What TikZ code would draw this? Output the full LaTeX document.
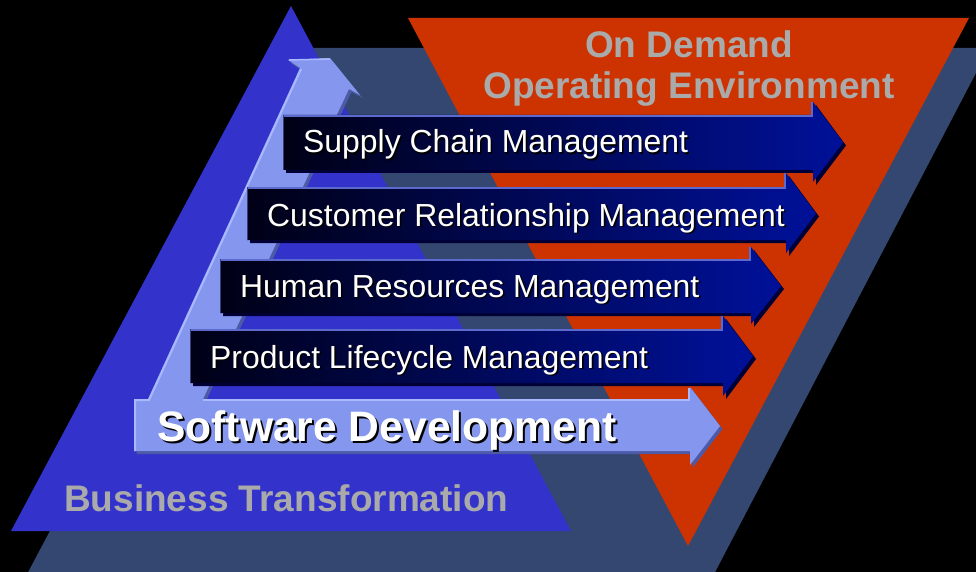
\documentclass[tikz,border=0pt]{standalone}
\usepackage{fontspec}
\setmainfont{Liberation Sans}
\definecolor{slate}{RGB}{51,71,112}
\definecolor{blueT}{RGB}{51,51,204}
\definecolor{redT}{RGB}{204,51,0}
\definecolor{lightA}{RGB}{132,150,238}
\definecolor{lightHi}{RGB}{170,185,255}
\definecolor{lightSh}{RGB}{76,90,168}
\definecolor{navyL}{RGB}{0,0,22}
\definecolor{navyR}{RGB}{0,17,153}
\definecolor{navyHi}{RGB}{92,106,205}
\definecolor{navySh}{RGB}{0,0,55}
\definecolor{grayT}{RGB}{170,170,170}
\newcommand\shtext[2][1.6]{\makebox[0pt][l]{\hspace{#1pt}\raisebox{-#1pt}{\color{black}#2}}#2}
% #1 left x, #2 top y, #3 bottom y, #4 bar end x, #5 head top y, #6 tip x, #7 head bottom y
\newcommand\navyarrow[7]{%
  \fill[navySh, shift={(3,3)}] (#1,#2) -- (#4,#2) -- (#4,#5) -- (#6,{(#2+#3)/2}) -- (#4,#7) -- (#4,#3) -- (#1,#3) -- cycle;
  \shade[left color=navyL, right color=navyR] (#1,#2) -- (#4,#2) -- (#4,#5) -- (#6,{(#2+#3)/2}) -- (#4,#7) -- (#4,#3) -- (#1,#3) -- cycle;
  \draw[navyHi, line width=1.6pt] (#1,{#2+0.8}) -- ({#4-0.8},{#2+0.8}) -- ({#4-0.8},#5);
  \draw[navyHi!60!black, line width=1pt] ({#1+0.5},#2) -- ({#1+0.5},#3);
}
\tikzset{
  navytext/.style={text=white, inner sep=0pt, anchor=base west, font=\fontsize{31.9}{38}\selectfont},
  sdtext/.style={text=white, inner sep=0pt, anchor=base west, font=\fontsize{42.6}{50}\selectfont\bfseries},
  graytitle/.style={text=grayT, inner sep=0pt, font=\fontsize{37}{44}\selectfont\bfseries},
}
\begin{document}
\begin{tikzpicture}[x=1pt,y=-1pt]
\useasboundingbox (0,0) rectangle (976,572);
\fill[black] (0,0) rectangle (976,572);
\clip (0,0) rectangle (976,572);
% slate parallelogram
\fill[slate] (306,48) -- (989,48) -- (712,578) -- (25,578) -- cycle;
% blue triangle
\fill[blueT] (11,531) -- (571,531) -- (291,6) -- cycle;
% red inverted triangle
\fill[redT] (408,18) -- (969,18) -- (688,546) -- cycle;
% light blue L-shaped arrow
\fill[lightSh, shift={(2.5,3)}] (134,451) -- (134,399) -- (148,399) -- (300,68) -- (288,60) -- (330,58) -- (360,95) -- (349,89) -- (203,399) -- (690,399) -- (690,387) -- (720,426) -- (690,465) -- (690,451) -- cycle;
\fill[lightA] (134,451) -- (134,399) -- (148,399) -- (300,68) -- (288,60) -- (330,58) -- (360,95) -- (349,89) -- (203,399) -- (690,399) -- (690,387) -- (720,426) -- (690,465) -- (690,451) -- cycle;
\draw[lightHi, line width=2pt] (135,451) -- (135,400) -- (149,400) -- (301,69);
\draw[lightHi, line width=1.5pt] (289,60) -- (330,59);
\draw[lightHi, line width=2pt] (203,400) -- (689,400) -- (689,388);
% navy arrows
\navyarrow{283}{115}{170}{813}{102}{843}{182}
\navyarrow{247}{187}{240}{786}{173}{816}{253}
\navyarrow{220}{259}{313}{751}{247}{781}{324}
\navyarrow{190}{329}{383}{723}{316}{753}{396}
% texts
\node[navytext] (scm) at (303,153) {\shtext{Supply Chain Management}};
\node[navytext] (crm) at (267,226) {\shtext{Customer Relationship Management}};
\node[navytext] (hrm) at (240,297) {\shtext{Human Resources Management}};
\node[navytext] (plm) at (210,368) {\shtext{Product Lifecycle Management}};
\node[sdtext] (sd) at (157,441) {\shtext[2]{Software Development}};
\node[graytitle, anchor=base west] (bt) at (64,511) {Business Transformation};
\node[graytitle, anchor=base] (od1) at (689,58) {On Demand};
\node[graytitle, anchor=base] (od2) at (689,99) {Operating Environment};
\end{tikzpicture}
\end{document}
